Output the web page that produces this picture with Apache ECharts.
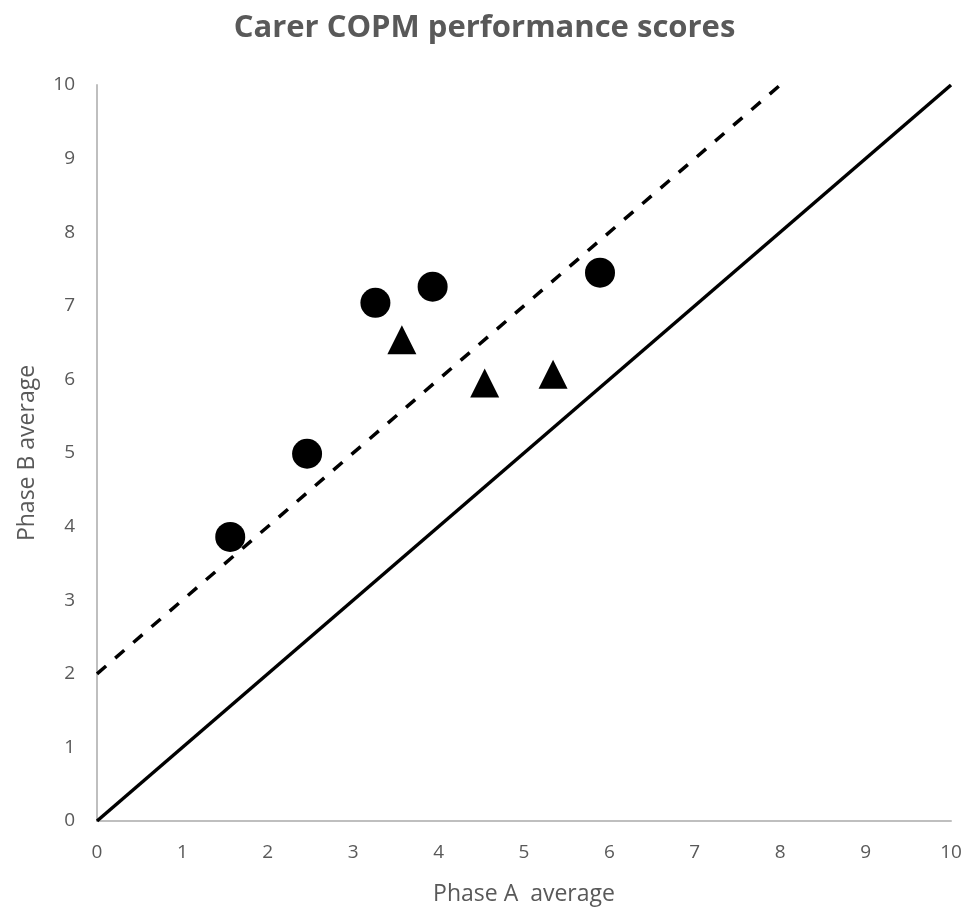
<!DOCTYPE html>
<html><head><meta charset="utf-8">
<script src="https://cdn.jsdelivr.net/npm/echarts@6/dist/echarts.min.js"></script>
<style>html,body{margin:0;padding:0;background:#fff;overflow:hidden}#c{width:969px;height:911px}</style>
</head><body><div id="c"></div>
<script>
const xTicks = [0,1,2,3,4,5,6,7,8,9,10];
const yTicks = [0,1,2,3,4,5,6,7,8,9,10];
const circlePoints = [[1.56,3.86],[2.46,4.99],[3.26,7.04],[3.93,7.26],[5.89,7.45]];
const trianglePoints = [[3.57,6.54],[4.54,5.95],[5.34,6.07]];
const noChangeLine = [[0,0],[10,10]];
const thresholdLine = [[0,2],[8,10]];

const chart = echarts.init(document.getElementById('c'), null, {renderer:'canvas'});
const gray = '#595959';
chart.setOption({
  animation:false,
  backgroundColor:'#fff',
  title:{text:'Carer COPM performance scores',left:'center',top:8,
    textStyle:{fontFamily:'Open Sans',fontWeight:'bold',fontSize:31,color:gray}},
  grid:{left:97,right:18,top:85,bottom:86},
  xAxis:{type:'value',min:xTicks[0],max:xTicks[xTicks.length-1],interval:1,
    name:'Phase A  average',nameLocation:'middle',nameGap:62,
    nameTextStyle:{fontFamily:'Open Sans',fontSize:23,color:gray},
    axisLine:{lineStyle:{color:'#bfbfbf',width:2}},axisTick:{show:false},splitLine:{show:false},
    axisLabel:{fontFamily:'Open Sans',fontSize:19,color:gray,margin:22}},
  yAxis:{type:'value',min:yTicks[0],max:yTicks[yTicks.length-1],interval:1,
    name:'Phase B average',nameLocation:'middle',nameGap:58,
    nameTextStyle:{fontFamily:'Open Sans',fontSize:23,color:gray},
    axisLine:{show:true,lineStyle:{color:'#bfbfbf',width:2}},axisTick:{show:false},splitLine:{show:false},
    axisLabel:{fontFamily:'Open Sans',fontSize:19,color:gray,margin:22}},
  series:[
    {type:'line',data:noChangeLine,symbol:'none',lineStyle:{color:'#000',width:3.5},z:1},
    {type:'line',data:thresholdLine,symbol:'none',lineStyle:{color:'#000',width:3.5,type:[12,12]},z:1},
    {type:'scatter',data:circlePoints,symbol:'circle',symbolSize:30,itemStyle:{color:'#000',opacity:1},z:3},
    {type:'scatter',data:trianglePoints,symbol:'triangle',symbolSize:29,itemStyle:{color:'#000',opacity:1},z:3}
  ]
});
</script></body></html>
